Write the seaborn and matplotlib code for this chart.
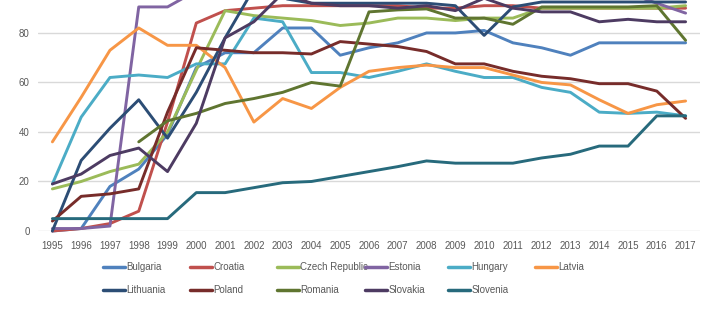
import numpy as np
import pandas as pd
import matplotlib
matplotlib.use("Agg")
import matplotlib.pyplot as plt
from matplotlib.lines import Line2D
import seaborn as sns

years = list(range(1995, 2018))
countries = ["Bulgaria", "Croatia", "Czech Republic", "Estonia", "Hungary",
             "Latvia", "Lithuania", "Poland", "Romania", "Slovakia", "Slovenia"]

bulgaria = [0, 1, 18, 25, 39, 66, 72, 72, 82, 82, 71, 74, 76, 80, 80, 81, 76, 74, 71, 76, 76, 76, 76]
croatia = [0, 1, 3, 8, 44, 84, 89, 90, 91, 91, 91, 91, 91, 90, 90, 91, 91, 90, 90, 90, 90, 90, 90]
czech = [17, 20, 24, 27, 40, 65, 89, 87, 86, 85, 83, 84, 86, 86, 85, 86, 86, 90, 90, 90, 90, 90, 91]
estonia = [1, 1, 2, 90.5, 90.5, 97, 97, 97, 97, 97, 97, 97, 97, 97, 97, 97, 97, 97, 97, 97, 96, 92, 88]
hungary = [19, 46, 62, 63, 62, 67.5, 67.5, 86, 84.5, 64, 64, 62, 64.5, 67.5, 64.5, 62, 62, 58, 56, 48, 47.5, 48, 46.5]
latvia = [36, 54, 73, 82, 75, 75, 66, 44, 53.5, 49.5, 58, 64.5, 66, 67, 66, 66, 63, 60, 59, 53, 47.5, 51, 52.5]
lithuania = [0, 28.5, 41.5, 53, 37.5, 56, 78, 98, 94, 92, 92, 92, 92, 92, 91, 79, 90.5, 92.5, 92.5, 92.5, 92.5, 92.5, 92.5]
poland = [4, 14, 15, 17, 48, 74, 73, 72, 72, 71.5, 76.5, 75.5, 74.5, 72.5, 67.5, 67.5, 64.5, 62.5, 61.5, 59.5, 59.5, 56.5, 45.5]
romania = [np.nan, np.nan, np.nan, 36, 44.5, 47.5, 51.5, 53.5, 56, 60, 58.5, 88.5, 89.3, 89.7, 86, 86, 83.5, 90.5, 90.5, 90.5, 90.5, 91, 77]
slovakia = [19, 23, 30.5, 33.5, 24, 43.5, 78, 84.5, 96, 92, 91, 91, 90, 91, 89, 94, 90, 88.5, 88.5, 84.5, 85.5, 84.5, 84.5]
slovenia = [5, 5, 5, 5, 5, 15.5, 15.5, 17.5, 19.5, 20, 22, 24, 26, 28.3, 27.4, 27.4, 27.4, 29.5, 31, 34.3, 34.3, 46.5, 46.5]

series = [bulgaria, croatia, czech, estonia, hungary, latvia, lithuania,
          poland, romania, slovakia, slovenia]
colors = ["#4F81BD", "#C0504D", "#9BBB59", "#8064A2", "#4BACC6", "#F79646",
          "#2C4D75", "#772C2A", "#5F7530", "#4D3B62", "#276A7C"]

rows = []
for c, vals in zip(countries, series):
    for y, v in zip(years, vals):
        rows.append({"year": y, "value": v, "country": c})
df = pd.DataFrame(rows).dropna()

sns.set_theme(style="white")
plt.rcParams["font.family"] = ["Liberation Sans", "DejaVu Sans"]

fig = plt.figure(figsize=(7.2, 3.21), dpi=100)
ax = fig.add_axes([38 / 720, 1 - 231 / 321, (700 - 38) / 720, 231 / 321])

palette = dict(zip(countries, colors))
sns.lineplot(data=df, x="year", y="value", hue="country", hue_order=countries,
             palette=palette, estimator=None, sort=True, linewidth=2.1,
             legend=False, ax=ax)
for ln in ax.lines:
    ln.set_clip_on(False)
    ln.set_solid_joinstyle("round")

ax.set_xlim(1994.5, 2017.5)
ax.set_ylim(0, 93.3)
ax.set_yticks([0, 20, 40, 60, 80])
ax.set_xticks(years)
ax.set_xticklabels([str(y) for y in years])
ax.yaxis.grid(True, color="#D9D9D9", linewidth=1.0)
ax.xaxis.grid(False)
ax.set_axisbelow(True)
for s in ax.spines.values():
    s.set_visible(False)
ax.tick_params(axis="both", length=0, labelsize=7, colors="#595959")
ax.tick_params(axis="x", pad=7)
ax.tick_params(axis="y", pad=6)
ax.set_xlabel("")
ax.set_ylabel("")

# legend: six fixed-width columns, two rows (row-major order like the original)
col_x = [103, 190, 277, 365, 448, 535]
ncols = len(col_x)
for i, x0 in enumerate(col_x):
    idx = [k for k in (i, i + ncols) if k < len(countries)]
    handles = [Line2D([0], [0], color=colors[k], lw=2.5) for k in idx]
    labels = [countries[k] for k in idx]
    fig.legend(handles, labels, loc="upper left",
               bbox_to_anchor=(x0 / 720, 1 - 262 / 321), frameon=False,
               fontsize=7, handlelength=2.3, handletextpad=0.1,
               labelspacing=1.35, borderpad=0, borderaxespad=0,
               labelcolor="#595959")

fig.savefig("out.png", dpi=100)
